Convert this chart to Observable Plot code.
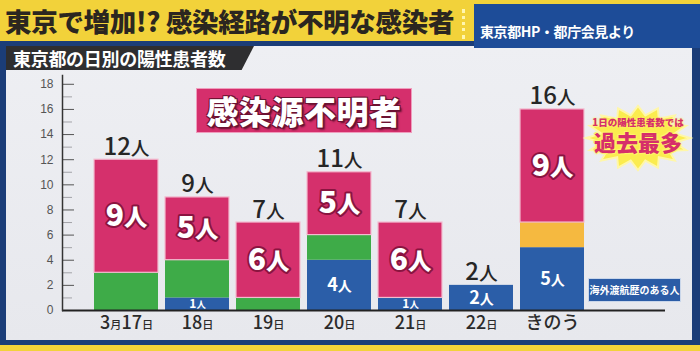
<!DOCTYPE html>
<html>
<head>
<meta charset="utf-8">
<script src="https://cdn.jsdelivr.net/npm/d3@7"></script>
<script src="https://cdn.jsdelivr.net/npm/@observablehq/plot@0.6"></script>
<style>
  html, body { margin: 0; padding: 0; }
  body { width: 700px; height: 351px; overflow: hidden; font-family: "Noto Sans CJK JP", "Noto Sans", sans-serif; }
  #stage { position: relative; width: 700px; height: 351px; background: #f2d23a; overflow: hidden; }
  #title { position: absolute; left: 5px; top: 0; height: 42px; line-height: 42px; font-size: 26.5px; font-weight: 900; color: #2b2620; white-space: nowrap; letter-spacing: -0.3px; }
  #sep { position: absolute; left: 462px; top: 9px; height: 30px; border-left: 3px dotted #fff6b0; }
  #src { position: absolute; left: 474px; top: 4px; width: 226px; height: 44px; background: #1d4c98; }
  #src span { position: absolute; left: 6px; top: 18px; font-size: 14px; line-height: 18px; font-weight: 700; color: #fff; white-space: nowrap; letter-spacing: -0.4px; }
  #frame { position: absolute; left: 0; top: 41px; width: 700px; height: 304px; background: #1b3d78; }
  #panel { position: absolute; left: 6px; top: 5px; width: 686px; height: 294px; background: linear-gradient(#eeeff3, #e7e8ed); }
  #tab { position: absolute; left: 0; top: 0; width: 248px; height: 24px; background: #2e2e30; clip-path: polygon(0 0, 100% 0, 95% 100%, 0 100%); }
  #tab span { position: absolute; left: 7px; top: 0; line-height: 24px; font-size: 18px; font-weight: 700; color: #fff; white-space: nowrap; letter-spacing: -0.3px; }
  #chart { position: absolute; left: 2px; top: 0; }
  #unk { position: absolute; left: 190px; top: 42px; width: 216px; height: 45px; background: #d52f6c; border: 1px solid #ef9dbd; box-sizing: border-box; }
  #unk span { position: absolute; left: 0; width: 100%; text-align: center; top: 0; line-height: 43px; font-size: 32px; font-weight: 900; color: #fff; text-shadow: 1px 1px 0 #6d1232, -1px 1px 0 #6d1232, 1px -1px 0 #6d1232, -1px -1px 0 #6d1232, 2px 2px 2px #5a0f2a; letter-spacing: 0.5px; }
  #ovs { position: absolute; left: 582px; top: 232px; width: 93px; height: 24px; background: #2b5ca6; border: 1px solid #c9d6ea; box-sizing: border-box; }
  #ovs span { position: absolute; left: 0; width: 100%; text-align: center; line-height: 22px; font-size: 10px; font-weight: 700; color: #fff; white-space: nowrap; }
  #ann1 { position: absolute; left: 572px; top: 71px; width: 120px; line-height: 10px; text-align: center; font-size: 9.5px; font-weight: 900; color: #d62f6a; white-space: nowrap; text-shadow: 0 0 2px #fff36a, 0 0 2px #fff36a; }
  #ann2 { position: absolute; left: 572px; top: 83px; width: 120px; line-height: 25px; text-align: center; font-size: 22px; font-weight: 900; color: #d62f6a; white-space: nowrap; text-shadow: 0 0 2px #fff36a, 0 0 3px #fff36a, 1px 1px 0 #fff36a, -1px -1px 0 #fff36a; }
</style>
</head>
<body>
<div id="stage">
  <div id="title">東京で増加!? 感染経路が不明な感染者</div>
  <div id="sep"></div>
  <div id="frame">
    <div id="panel">
      <div id="chart"></div>
      <div id="tab"><span>東京都の日別の陽性患者数</span></div>
      <div id="unk"><span>感染源不明者</span></div>
      <svg id="burst" width="104" height="64" viewBox="0 0 104 64" style="position:absolute;left:580px;top:60px;overflow:visible"><polygon id="burstpoly" fill="#fbec4f" stroke="#fff7a8" stroke-width="2"></polygon></svg>
      <div id="ann1">1日の陽性患者数では</div>
      <div id="ann2">過去最多</div>
      <div id="ovs"><span>海外渡航歴のある人</span></div>
    </div>
  </div>
  <div id="src"><span>東京都HP・都庁会見より</span></div>
</div>
<script>
// ---- data ----
const dates    = ["3月17日", "18日", "19日", "20日", "21日", "22日", "きのう"];
const overseas = [0, 1, 0, 4, 1, 2, 5];   // 海外渡航歴のある人 (blue)
const orange   = [0, 0, 0, 0, 0, 0, 2];   // orange segment
const green    = [3, 3, 1, 2, 0, 0, 0];   // green segment
const unknown  = [9, 5, 6, 5, 6, 0, 9];   // 感染源不明者 (pink)
const totals   = [12, 9, 7, 11, 7, 2, 16];
const majorTicks = [0, 2, 4, 6, 8, 10, 12, 14, 16, 18];
const minorTicks = [1, 3, 5, 7, 9, 11, 13, 15, 17];

const colorOf = { overseas: "#2b5ea8", orange: "#f5b940", green: "#3eab48", unknown: "#d5306c" };
const series = { overseas, orange, green, unknown };
const rows = dates.flatMap((date, i) =>
  Object.keys(series).map(cat => ({ date, cat, v: series[cat][i] })));

// starburst decoration behind the note
(function () {
  const pts = [], n = 16;
  for (let k = 0; k < n * 2; k++) {
    const a = Math.PI * k / n, r = k % 2 ? 0.36 : 0.5;
    pts.push(`${(52 + 104 * r * Math.cos(a)).toFixed(1)},${(32 + 64 * r * Math.sin(a)).toFixed(1)}`);
  }
  document.getElementById("burstpoly").setAttribute("points", pts.join(" "));
})();

const chart = Plot.plot({
  width: 682,
  height: 294,
  marginTop: 29,
  marginBottom: 30,
  marginLeft: 54,
  marginRight: 25,
  style: { background: "transparent", fontFamily: "'Noto Sans CJK JP', sans-serif", overflow: "visible" },
  x: { domain: dates, range: [54, 607], paddingInner: 0.1, paddingOuter: 0.44, align: 0.5, label: null },
  y: { domain: [0, 18.7], label: null },
  color: { type: "identity" },
  marks: [
    Plot.tickY(minorTicks, { y: d => d, insetRight: 593, stroke: "#a3a3a8", strokeWidth: 1 }),
    Plot.tickY(majorTicks, { y: d => d, insetRight: 591, stroke: "#555", strokeWidth: 1 }),
    Plot.axisY({ ticks: majorTicks, tickSize: 0, tickPadding: 9, fontSize: 12, color: "#555", fontFamily: "'Liberation Sans', sans-serif", label: null }),
    Plot.barY(rows, {
      x: "date", y: "v",
      fill: d => colorOf[d.cat],
      stroke: d => d.cat === "unknown" ? "#f3bcd0" : "none",
      strokeWidth: 1.2
    }),
    Plot.ruleY([0], { stroke: "#222", strokeWidth: 2 }),
    Plot.frame({ anchor: "left", stroke: "#333", strokeWidth: 1.5 }),
    Plot.axisX({ tickSize: 0, tickPadding: 6, fontSize: 18, color: "#2b2b2b", fontWeight: 500, label: null }),
    Plot.text(rows, Plot.stackY({
      x: "date", y: "v",
      text: d => d.cat === "unknown" && d.v > 0 ? `${d.v}人` : "",
      fill: "white", stroke: "#8a1440", strokeWidth: 4, paintOrder: "stroke",
      fontSize: 30, fontWeight: 900
    })),
    Plot.text(rows, Plot.stackY({
      x: "date", y: "v",
      text: d => d.cat === "overseas" && d.v > 1 ? `${d.v}人` : "",
      fill: "white", fontSize: 18, fontWeight: 700
    })),
    Plot.text(rows, Plot.stackY({
      x: "date", y: "v",
      text: d => d.cat === "overseas" && d.v === 1 ? `${d.v}人` : "",
      fill: "white", fontSize: 12, fontWeight: 700
    })),
    Plot.text(dates, {
      x: d => d, y: (d, i) => totals[i],
      text: (d, i) => `${totals[i]}人`,
      dy: -5, lineAnchor: "bottom",
      fill: "#262626", fontSize: 24, fontWeight: 500
    })
  ]
});

// smaller 人 / 月 / 日 glyphs, as on the original
const small = { "人": 0.78, "月": 0.62, "日": 0.62 };
const ns = "http://www.w3.org/2000/svg";
chart.querySelectorAll("text").forEach(t => {
  if (t.querySelector("tspan")) return;
  const s = t.textContent;
  if (!/[人月日]/.test(s)) return;
  t.textContent = "";
  const parts = s.match(/[人月日]|[^人月日]+/g);
  for (const p of parts) {
    const ts = document.createElementNS(ns, "tspan");
    ts.textContent = p;
    if (small[p]) ts.setAttribute("font-size", small[p] + "em");
    t.appendChild(ts);
  }
});

document.getElementById("chart").appendChild(chart);
</script>
</body>
</html>
